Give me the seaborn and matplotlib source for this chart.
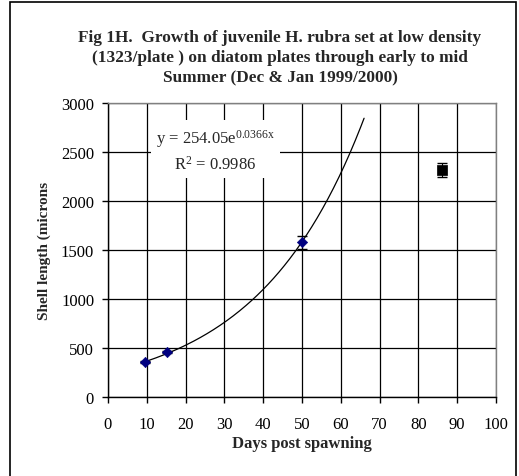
import numpy as np
import pandas as pd
import matplotlib
matplotlib.use("Agg")
import matplotlib.pyplot as plt
import seaborn as sns
from matplotlib.patches import Rectangle

days = [9.5, 15.3, 50.1]
length = [354, 462, 1578]
length_err = [12, 12, 65]
late_day = [86.0]
late_len = [2316]
late_err = [72]
fit_a = 254.05
fit_b = 0.0366
fit_range = [10, 66]
xticks = list(range(0, 101, 10))
yticks = list(range(0, 3001, 500))

sns.set_theme(style="white")
plt.rcParams['font.family'] = ['Liberation Serif', 'DejaVu Serif']
plt.rcParams['mathtext.fontset'] = 'custom'
plt.rcParams['mathtext.rm'] = 'Liberation Serif'
plt.rcParams['mathtext.it'] = 'Liberation Serif:italic'
plt.rcParams['mathtext.bf'] = 'Liberation Serif:bold'

W, H = 519, 477
fig = plt.figure(figsize=(W/100, H/100), dpi=100)
ax = fig.add_axes([108/W, 1 - 398/H, (496-108)/W, (398-104)/H])

# frame around figure
fig.patches.append(Rectangle((10/W, -0.1), (516-10)/W, (H-3)/H + 0.1, transform=fig.transFigure,
                             fill=False, edgecolor='black', linewidth=1.2))

xs = np.linspace(fit_range[0], fit_range[1], 200)
fit_df = pd.DataFrame({"x": xs, "y": fit_a * np.exp(fit_b * xs)})
sns.lineplot(data=fit_df, x="x", y="y", ax=ax, color='black', linewidth=0.9, zorder=3)

df = pd.DataFrame({"d": days, "l": length})
ax.errorbar(days, length, yerr=length_err, fmt='none', ecolor='black', elinewidth=0.8, capsize=3.6, zorder=4)
sns.scatterplot(data=df, x="d", y="l", ax=ax, marker='D', s=28, color='#000080', edgecolor='#000080', zorder=5)

ax.errorbar(late_day, late_len, yerr=late_err, fmt='none', ecolor='black', elinewidth=0.8, capsize=3.6, zorder=4)
ldf = pd.DataFrame({"d": late_day, "l": late_len})
sns.scatterplot(data=ldf, x="d", y="l", ax=ax, marker='s', s=42, color='black', edgecolor='black', zorder=5)

ax.set_xlim(0, 100)
ax.set_ylim(0, 3000)
ax.set_xticks(xticks)
ax.set_yticks(yticks)
ax.grid(True, color='black', linewidth=0.9)
ax.set_axisbelow(True)
for s in ['top', 'right']:
    ax.spines[s].set_color('#808080')
    ax.spines[s].set_linewidth(1.0)
for s in ['left', 'bottom']:
    ax.spines[s].set_color('black')
    ax.spines[s].set_linewidth(1.0)
ax.tick_params(axis='both', which='both', direction='out', length=4, width=1, colors='black',
               labelsize=12, left=True, bottom=True, pad=6)
ax.tick_params(axis='x', pad=10)

ax.set_xlabel("Days post spawning", fontsize=12, fontweight='bold', labelpad=2)
ax.set_ylabel("Shell length (microns", fontsize=11, fontweight='bold', labelpad=7)

ax.text(27.6, 2520, "y = 254.05e$^{\\mathrm{0.0366x}}$\nR$^{\\mathrm{2}}$ = 0.9986", fontsize=12, ha='center', va='center',
        linespacing=1.45, zorder=6,
        bbox=dict(boxstyle='square,pad=0.3', facecolor='white', edgecolor='none'))

fig.text(280/W, 1 - 58/H, "Fig 1H.  Growth of juvenile H. rubra set at low density\n(1323/plate ) on diatom plates through early to mid\nSummer (Dec & Jan 1999/2000)",
         ha='center', va='center', fontsize=12.4, fontweight='bold', linespacing=1.34)

fig.savefig("out.png", dpi=100)
